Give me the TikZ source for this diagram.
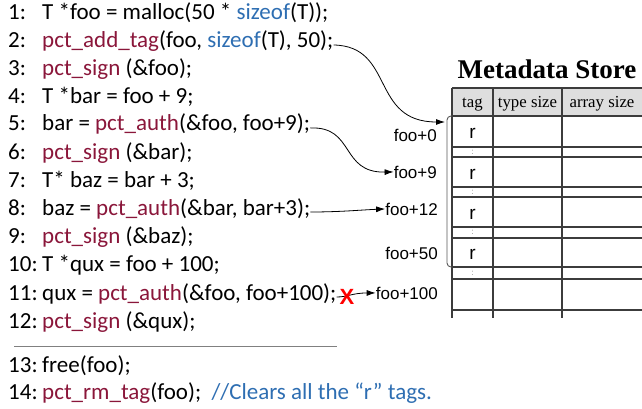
\documentclass[tikz,border=0pt]{standalone}
\usepackage{fontspec}
\setmainfont{Carlito}
\newfontfamily\serifT{Liberation Serif}
\newfontfamily\sansA{Liberation Sans}
\usetikzlibrary{arrows.meta}
\definecolor{pctred}{RGB}{138,22,58}
\definecolor{kwblue}{RGB}{46,110,178}
\definecolor{hdrgray}{RGB}{222,222,222}
\definecolor{tblline}{RGB}{60,60,60}
\newcommand{\pr}[1]{\textcolor{pctred}{#1}}
\newcommand{\kb}[1]{\textcolor{kwblue}{#1}}
\begin{document}
\begin{tikzpicture}[x=1pt,y=-1pt,
  codeln/.style={anchor=base west,inner sep=0pt,font=\fontsize{23}{26}\selectfont},
  lbl/.style={anchor=base east,inner sep=0pt,font=\sansA\fontsize{17}{20}\selectfont},
  hdr/.style={anchor=base,inner sep=0pt,font=\serifT\fontsize{16.8}{19}\selectfont},
  rtag/.style={anchor=base,inner sep=0pt,font=\sansA\fontsize{19}{22}\selectfont},
  dots/.style={inner sep=0pt,font=\sansA\fontsize{8}{9}\selectfont,text=gray},
  conn/.style={-{Latex[length=9pt,width=6pt]},line width=0.8pt},
  grid/.style={draw=tblline,line width=1.1pt}]
\useasboundingbox (0,0) rectangle (642,409);
% code lines
\node[codeln] (n1) at (8,20) {1:};
\node[codeln] (c1) at (42,20) {T *foo = malloc(50 * \kb{sizeof}(T));};
\node[codeln] (n2) at (8,48) {2:};
\node[codeln] (c2) at (42,48) {\pr{pct\_add\_tag}(foo, \kb{sizeof}(T), 50);};
\node[codeln] (n3) at (8,76) {3:};
\node[codeln] (c3) at (42,76) {\pr{pct\_sign} (\&foo);};
\node[codeln] (n4) at (8,103) {4:};
\node[codeln] (c4) at (42,103) {T *bar = foo + 9;};
\node[codeln] (n5) at (8,131) {5:};
\node[codeln] (c5) at (42,131) {bar = \pr{pct\_auth}(\&foo, foo+9);};
\node[codeln] (n6) at (8,159) {6:};
\node[codeln] (c6) at (42,159) {\pr{pct\_sign} (\&bar);};
\node[codeln] (n7) at (8,187) {7:};
\node[codeln] (c7) at (42,187) {T* baz = bar + 3;};
\node[codeln] (n8) at (8,215) {8:};
\node[codeln] (c8) at (42,215) {baz = \pr{pct\_auth}(\&bar, bar+3);};
\node[codeln] (n9) at (8,243) {9:};
\node[codeln] (c9) at (42,243) {\pr{pct\_sign} (\&baz);};
\node[codeln] (n10) at (8,271) {10:};
\node[codeln] (c10) at (42,271) {T *qux = foo + 100;};
\node[codeln] (n11) at (8,300) {11:};
\node[codeln] (c11) at (42,300) {qux = \pr{pct\_auth}(\&foo, foo+100);};
\node[codeln] (n12) at (8,328) {12:};
\node[codeln] (c12) at (42,328) {\pr{pct\_sign} (\&qux);};
\coordinate (sepL) at (14,346);
\coordinate (sepR) at (337,346);
\draw[gray,line width=1pt] (sepL) -- (sepR);
\node[codeln] (n13) at (8,372) {13:};
\node[codeln] (c13) at (42,372) {free(foo);};
\node[codeln] (n14) at (8,399) {14:};
\node[codeln] (c14) at (42,399) {\pr{pct\_rm\_tag}(foo);\ \ \kb{//Clears all the “r” tags.}};
% table
\node[anchor=base,inner sep=0pt,font=\serifT\bfseries\fontsize{27}{30}\selectfont] (title) at (547,79) {Metadata Store};
\fill[hdrgray] (452,88) rectangle (642,116);
\foreach \y in {88,116,147,157,187,197,227,238,267,279,310} {\draw[grid] (452,\y) -- (642,\y);}
\foreach \x in {452,493,562} {\draw[grid] (\x,88) -- (\x,318);}
\node[hdr] (h1) at (472.5,108) {tag};
\node[hdr] (h2) at (527.5,108) {type size};
\node[hdr] (h3) at (602,108) {array size};
\node[rtag] (r1) at (472.5,139) {r};
\node[rtag] (r2) at (472.5,179) {r};
\node[rtag] (r3) at (472.5,219) {r};
\node[rtag] (r4) at (472.5,259) {r};
\node[dots] (d1) at (472.5,152) {:};
\node[dots] (d2) at (472.5,192) {:};
\node[dots] (d3) at (472.5,232.5) {:};
\node[dots] (d4) at (472.5,273) {:};
% bracket
\draw[gray!70!black,line width=0.9pt,rounded corners=4pt] (452,116) -- (447,116) -- (447,267) -- (452,267);
% labels
\node[lbl] (f0) at (437,141) {foo+0};
\node[lbl] (f9) at (437,178) {foo+9};
\node[lbl] (f12) at (438,215) {foo+12};
\node[lbl] (f50) at (438,259) {foo+50};
\node[lbl] (f100) at (438,299) {foo+100};
\coordinate (tip0) at (445,122);
% arrows
\draw[conn] (c2.base east) ++(0,-3) .. controls (395,46) and (370,122) .. (tip0);
\draw[conn] (c5.base east) ++(0,-3) .. controls (355,126) and (340,173) .. (f9.west);
\draw[conn] (c8.base east) ++(0,-3) .. controls (340,212) and (360,210) .. (f12.west);
\draw[conn] (c11.base east) ++(0,-3) .. controls (348,297) and (352,293) .. (f100.west);
\node[inner sep=0pt,text=red,font=\sansA\bfseries\fontsize{22}{24}\selectfont] (xmark) at (347,297) {X};
\end{tikzpicture}
\end{document}
